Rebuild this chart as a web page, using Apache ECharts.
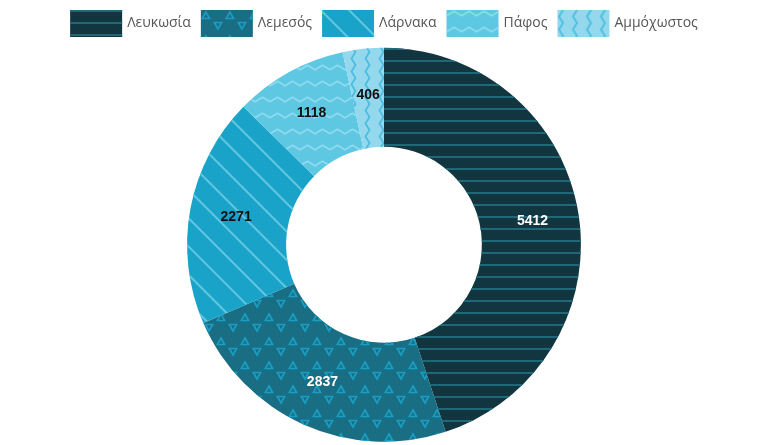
<!DOCTYPE html>
<html>
<head>
<meta charset="utf-8">
<script src="https://cdn.jsdelivr.net/npm/echarts@6/dist/echarts.min.js"></script>
<style>
  html, body { margin: 0; padding: 0; background: #fff; }
  #chart { width: 768px; height: 445px; }
</style>
</head>
<body>
<div id="chart"></div>
<script>
// data
var cities = ['Λευκωσία', 'Λεμεσός', 'Λάρνακα', 'Πάφος', 'Αμμόχωστος'];
var values = [5412, 2837, 2271, 1118, 406];

var colors = ['#11363f', '#1a6e83', '#1aa3c9', '#5ec8e2', '#93d8ec'];
var labelColors = ['#fff', '#fff', '#111', '#111', '#111'];

// hollow triangles, one up and one down per tile (inner contour reversed -> hole)
var triUp = 'M0 9L5 0L10 9Z M2.8 7.5L7.2 7.5L5 3.5Z';
var triDown = 'M12 11.7L22 11.7L17 20.7Z M14.8 13.2L17 17.2L19.2 13.2Z';
var wavesH = 'path://M0 4.5L7.5 0L15 4.5L15 6.6L7.5 2.1L0 6.6Z';
var wavesV = 'path://M4 0L0 6.5L4 13L6.1 13L2.1 6.5L6.1 0Z';

var decals = [
  { color: '#206878', symbol: 'rect', dashArrayX: [1, 0], dashArrayY: [2, 10], symbolSize: 1, rotation: 0 },
  { color: '#1b9ec4', symbol: 'path://' + triUp + ' ' + triDown, dashArrayX: [22, 2], dashArrayY: [20.7, 2.7], symbolSize: 1 },
  { color: '#62c6e0', symbol: 'rect', dashArrayX: [1, 0], dashArrayY: [2, 18], symbolSize: 1, rotation: Math.PI / 4 },
  { color: '#8fdaee', symbol: wavesH, dashArrayX: [15, 0], dashArrayY: [6.6, 8.4], symbolSize: 1 },
  { color: '#4cbde0', symbol: wavesV, dashArrayX: [6.1, 7], dashArrayY: [13, 0], symbolSize: 1 }
];

var chart = echarts.init(document.getElementById('chart'));

var option = {
  animation: false,
  legend: {
    top: 5,
    itemWidth: 52,
    itemHeight: 27,
    itemGap: 10,
    icon: 'rect',
    textStyle: { fontSize: 14, color: '#555', fontFamily: 'Open Sans' },
    data: cities
  },
  series: [{
    type: 'pie',
    center: ['50%', '55%'],
    radius: ['44%', '88.5%'],
    startAngle: 90,
    label: {
      show: true,
      position: 'inside',
      fontFamily: 'Liberation Sans',
      fontSize: 14,
      fontWeight: 'bold',
      formatter: '{c}'
    },
    labelLine: { show: false },
    data: cities.map(function (name, i) {
      return {
        name: name,
        value: values[i],
        itemStyle: { color: colors[i], decal: decals[i] },
        label: { color: labelColors[i] }
      };
    })
  }]
};

chart.setOption(option);
</script>
</body>
</html>
